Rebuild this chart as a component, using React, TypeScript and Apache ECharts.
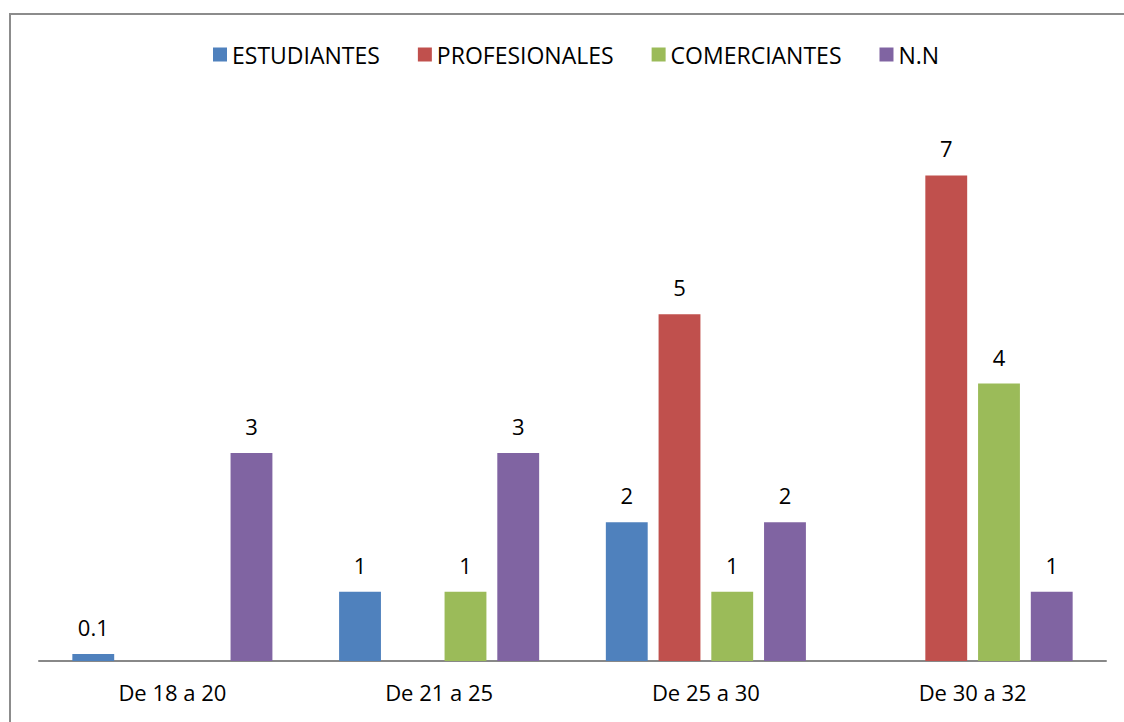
import React, { useEffect, useRef } from "react";
import * as echarts from "echarts";

const categories = ["De 18 a 20", "De 21 a 25", "De 25 a 30", "De 30 a 32"];
const seriesNames = ["ESTUDIANTES", "PROFESIONALES", "COMERCIANTES", "N.N"];
const estudiantes: (number | string)[] = [0.1, 1, 2, "-"];
const profesionales: (number | string)[] = ["-", "-", 5, 7];
const comerciantes: (number | string)[] = ["-", 1, 1, 4];
const nn: (number | string)[] = [3, 3, 2, 1];
const colors = ["#4F81BD", "#C0504D", "#9BBB59", "#8064A2"];

const FONT = "Open Sans";

export default function App() {
  const ref = useRef<HTMLDivElement>(null);
  useEffect(() => {
    if (!ref.current) return;
    const chart = echarts.init(ref.current, null, { renderer: "svg" });
    const data = [estudiantes, profesionales, comerciantes, nn];
    chart.setOption({
      animation: false,
      backgroundColor: "#ffffff",
      textStyle: { fontFamily: FONT },
      legend: {
        top: 38,
        left: 208,
        itemWidth: 14,
        itemHeight: 14,
        itemGap: 38,
        icon: "rect",
        textStyle: { fontFamily: FONT, fontSize: 23, color: "#000" },
        data: seriesNames,
      },
      grid: { left: 39, right: 18, top: 106, bottom: 61, containLabel: false },
      xAxis: {
        type: "category",
        data: categories,
        axisLine: { show: true, lineStyle: { color: "#888888", width: 2 } },
        axisTick: { show: false },
        axisLabel: { fontFamily: FONT, fontSize: 22, color: "#000", margin: 20 },
      },
      yAxis: {
        type: "value",
        min: 0,
        max: 8,
        show: false,
        splitLine: { show: false },
      },
      graphic: [
        {
          type: "rect",
          shape: { x: 10, y: 14, width: 1300, height: 900 },
          style: { fill: "none", stroke: "#8c8c8c", lineWidth: 2 },
          silent: true,
        },
      ],
      series: seriesNames.map((name, i) => ({
        name,
        type: "bar",
        data: data[i],
        itemStyle: { color: colors[i] },
        barGap: "26%",
        barCategoryGap: "25%",
        label: {
          show: true,
          position: "top",
          distance: 16,
          fontFamily: FONT,
          fontSize: 22,
          color: "#000",
        },
      })),
    });
    return () => chart.dispose();
  }, []);
  return (
    <div
      ref={ref}
      style={{ position: "fixed", left: 0, top: 0, width: 1124, height: 722 }}
    />
  );
}
